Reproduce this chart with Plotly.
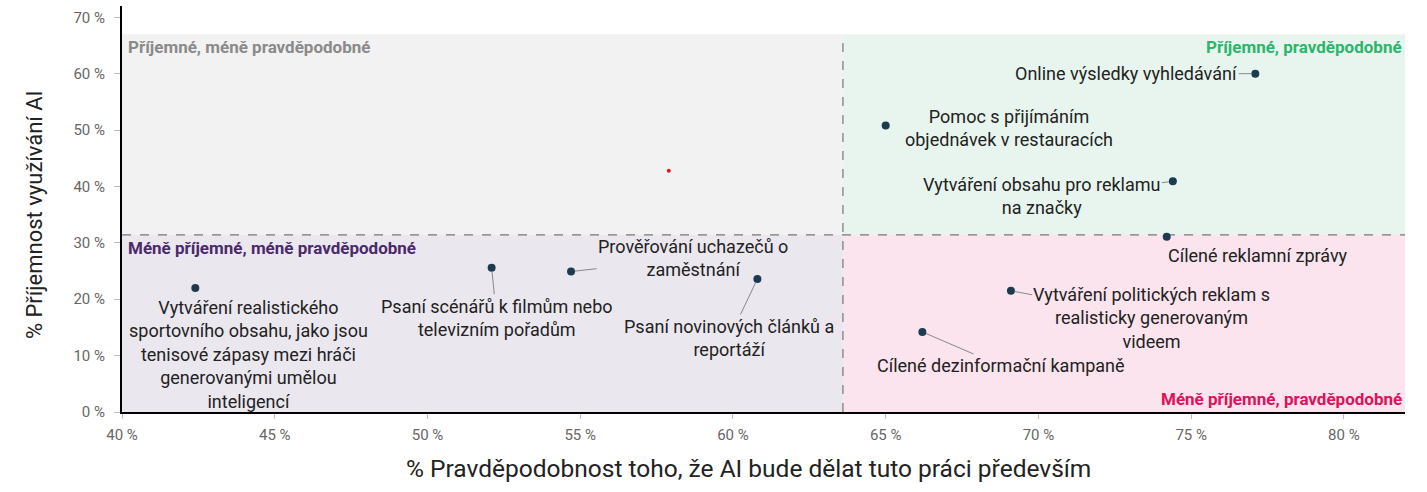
import plotly.graph_objects as go

# data
labels = [
    "Online výsledky vyhledávání",
    "Pomoc s přijímáním<br>objednávek v restauracích",
    "Vytváření obsahu pro reklamu<br>na značky",
    "Cílené reklamní zprávy",
    "Vytváření politických reklam s<br>realisticky generovaným<br>videem",
    "Cílené dezinformační kampaně",
    "Vytváření realistického<br>sportovního obsahu, jako jsou<br>tenisové zápasy mezi hráči<br>generovanými umělou<br>inteligencí",
    "Psaní scénářů k filmům nebo<br>televizním pořadům",
    "Prověřování uchazečů o<br>zaměstnání",
    "Psaní novinových článků a<br>reportáží",
]
x_vals = [77.1, 65.0, 74.4, 74.2, 69.1, 66.2, 42.4, 52.1, 54.7, 60.8]
y_vals = [60.0, 50.8, 40.9, 31.1, 21.5, 14.2, 22.0, 25.6, 24.9, 23.6]

mean_x = [57.9]
mean_y = [42.8]

x_split = 63.6
y_split = 31.4
x_ticks = [40, 45, 50, 55, 60, 65, 70, 75, 80]
y_ticks = [0, 10, 20, 30, 40, 50, 60, 70]

x_title = "% Pravděpodobnost toho, že AI bude dělat tuto práci především"
y_title = "% Příjemnost využívání AI"

# label placement (pixel offsets of text centre from point, show leader line)
label_pos = [
    (-129, 0, True),
    (123, 2, False),
    (-131, 15, True),
    (91, 19, False),
    (141, 27, True),
    (79, 34, True),
    (53, 67, False),
    (5, 50, True),
    (122, -14, True),
    (-28, 59, True),
]

FONT = "Roboto, Inter, sans-serif"
xmin, xmax = 40, 82
ymin, ytop = 0, 67

fig = go.Figure()

quads = [
    (xmin, x_split, y_split, ytop, "#f2f2f2"),
    (x_split, xmax, y_split, ytop, "#e8f5ee"),
    (xmin, x_split, ymin, y_split, "#ebe7ef"),
    (x_split, xmax, ymin, y_split, "#fbe4ed"),
]
for x0, x1, y0, y1, c in quads:
    fig.add_shape(type="rect", x0=x0, x1=x1, y0=y0, y1=y1, fillcolor=c,
                  line_width=0, layer="below")
fig.add_shape(type="line", x0=x_split, x1=x_split, y0=ymin, y1=ytop,
              line=dict(color="#777", width=1.2, dash="dash"), layer="below")
fig.add_shape(type="line", x0=xmin, x1=xmax, y0=y_split, y1=y_split,
              line=dict(color="#777", width=1.2, dash="dash"), layer="below")

fig.add_trace(go.Scatter(x=x_vals, y=y_vals, mode="markers",
                         marker=dict(color="#1d3a4f", size=8), showlegend=False))
fig.add_trace(go.Scatter(x=mean_x, y=mean_y, mode="markers",
                         marker=dict(color="#e8141b", size=4), showlegend=False))

for lab, xv, yv, (ax, ay, arr) in zip(labels, x_vals, y_vals, label_pos):
    if arr:
        fig.add_annotation(x=xv, y=yv, text=lab, showarrow=True, arrowhead=0,
                           arrowwidth=1, arrowcolor="#888", ax=ax, ay=ay,
                           standoff=4, font=dict(size=18, color="#222", family=FONT))
    else:
        fig.add_annotation(x=xv, y=yv, text=lab, showarrow=False, xshift=ax,
                           yshift=-ay, font=dict(size=18, color="#222", family=FONT))

quad_labels = [
    ("Příjemné, méně pravděpodobné", xmin, ytop, "left", "top", "#8a8a8a"),
    ("Příjemné, pravděpodobné", xmax, ytop, "right", "top", "#2bb56c"),
    ("Méně příjemné, méně pravděpodobné", xmin, y_split, "left", "top", "#4a2a6a"),
    ("Méně příjemné, pravděpodobné", xmax, ymin, "right", "bottom", "#e0105a"),
]
for t, xv, yv, xa, ya, c in quad_labels:
    fig.add_annotation(x=xv, y=yv, text="<b>" + t + "</b>", showarrow=False,
                       xanchor=xa, yanchor=ya, xshift=4 if xa == "left" else -1,
                       yshift=-1 if ya == "top" else 1,
                       font=dict(size=17, color=c, family=FONT))

# axis titles as annotations to match placement
fig.add_annotation(text=x_title, xref="paper", yref="paper", x=0.488, y=0,
                   yshift=-56, xanchor="center", yanchor="middle", showarrow=False,
                   font=dict(size=24.5, color="#222", family=FONT))
fig.add_annotation(text=y_title, xref="paper", yref="paper", x=0, y=0.485,
                   xshift=-88, textangle=-90, xanchor="center", yanchor="middle",
                   showarrow=False, font=dict(size=22, color="#222", family=FONT))

fig.update_xaxes(range=[xmin, xmax], tickvals=x_ticks,
                 ticktext=[f"{v} %" for v in x_ticks], showgrid=False,
                 zeroline=False, showline=True, linecolor="black", linewidth=2,
                 ticks="outside", ticklen=5, tickcolor="#bbb", ticklabelstandoff=3,
                 tickfont=dict(size=15, color="#666", family=FONT))
fig.update_yaxes(range=[0, 72], tickvals=y_ticks,
                 ticktext=[f"{v} %" for v in y_ticks], showgrid=False,
                 zeroline=False, showline=True, linecolor="black", linewidth=2,
                 ticks="outside", ticklen=6, tickcolor="#bbb", ticklabelstandoff=6,
                 tickfont=dict(size=15, color="#666", family=FONT))

fig.update_layout(width=1427, height=492, plot_bgcolor="white", paper_bgcolor="white",
                  margin=dict(l=122, r=22, t=6, b=80, autoexpand=False),
                  font=dict(family=FONT))

fig.write_html("out.html", config={"displayModeBar": False},
               post_script="document.body.style.margin='0px';")
